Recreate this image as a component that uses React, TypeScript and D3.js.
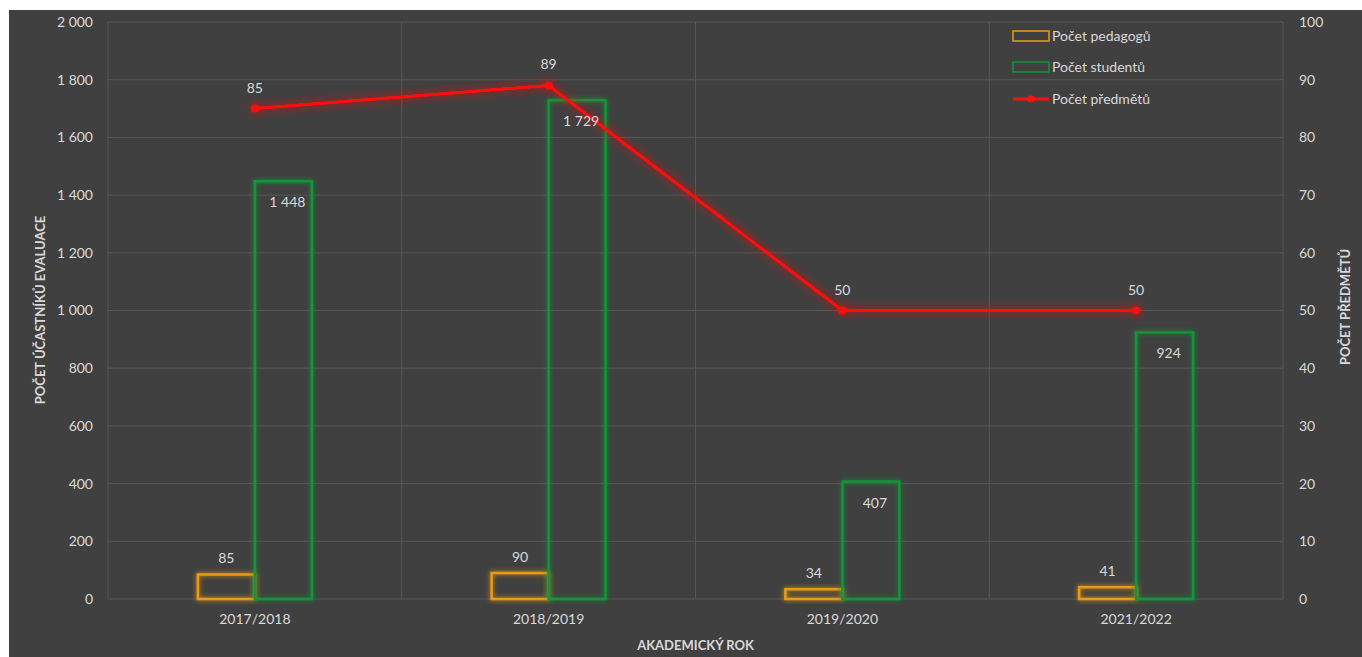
import React from "react";
import * as d3 from "d3";

const years = ["2017/2018", "2018/2019", "2019/2020", "2021/2022"];
const teachers = [85, 90, 34, 41];
const students = [1448, 1729, 407, 924];
const courses = [85, 89, 50, 50];
const leftTicks = [0, 200, 400, 600, 800, 1000, 1200, 1400, 1600, 1800, 2000];
const rightTicks = [0, 10, 20, 30, 40, 50, 60, 70, 80, 90, 100];

const W = 1362;
const H = 657;
const m = { left: 108, right: 1283, top: 22, bottom: 599 };
const font = "Lato, 'Open Sans', sans-serif";
const textColor = "#d9d9d9";
const gridColor = "#575757";
const orange = "#eb9a18";
const green = "#139438";
const red = "#ff1010";

const fmt = (v: number) => d3.format(",")(v).replace(/,/g, " ");

const App = () => {
  const x = d3.scaleBand().domain(years).range([m.left, m.right]);
  const yL = d3.scaleLinear().domain([0, 2000]).range([m.bottom, m.top]);
  const yR = d3.scaleLinear().domain([0, 100]).range([m.bottom, m.top]);
  const barW = 57;
  const cx = (d: string) => (x(d) as number) + x.bandwidth() / 2;

  const line = d3
    .line<number>()
    .x((_, i) => cx(years[i]))
    .y((d) => yR(d));

  return (
    <div style={{ position: "absolute", left: 0, top: 0 }}>
      <svg width={W} height={H} style={{ display: "block" }}>
        <defs>
          <filter id="glow" x="-50%" y="-50%" width="200%" height="200%">
            <feGaussianBlur stdDeviation="2.5" result="b" />
            <feMerge>
              <feMergeNode in="b" />
              <feMergeNode in="SourceGraphic" />
            </feMerge>
          </filter>
          <filter id="glowRed" x="-20%" y="-50%" width="140%" height="200%">
            <feGaussianBlur stdDeviation="5" result="b" />
            <feMerge>
              <feMergeNode in="b" />
              <feMergeNode in="SourceGraphic" />
            </feMerge>
          </filter>
        </defs>
        <rect width={W} height={H} fill="#ffffff" />
        <rect x={9} y={10} width={W - 9} height={H - 10} fill="#404040" />

        {/* horizontal grid */}
        {leftTicks.map((t) => (
          <line
            key={t}
            x1={m.left}
            x2={m.right}
            y1={yL(t)}
            y2={yL(t)}
            stroke={gridColor}
            strokeWidth={1}
          />
        ))}
        {/* vertical grid at category boundaries */}
        {years.map((d) => (
          <line
            key={d}
            x1={x(d) as number}
            x2={x(d) as number}
            y1={m.top}
            y2={m.bottom}
            stroke={gridColor}
          />
        ))}
        <line x1={m.right} x2={m.right} y1={m.top} y2={m.bottom} stroke={gridColor} />

        {/* left ticks */}
        {leftTicks.map((t) => (
          <text
            key={t}
            x={93}
            y={yL(t)}
            dy="0.35em"
            textAnchor="end"
            fontFamily={font}
            fontSize={14}
            fill={textColor}
          >
            {fmt(t)}
          </text>
        ))}
        {/* right ticks */}
        {rightTicks.map((t) => (
          <text
            key={t}
            x={1299}
            y={yR(t)}
            dy="0.35em"
            textAnchor="start"
            fontFamily={font}
            fontSize={14}
            fill={textColor}
          >
            {t}
          </text>
        ))}

        {/* bars */}
        {years.map((d, i) => {
          const c = cx(d);
          return (
            <g key={d}>
              <rect
                x={c - barW}
                y={yL(teachers[i])}
                width={barW}
                height={m.bottom - yL(teachers[i])}
                fill="none"
                stroke={orange}
                strokeWidth={2.5}
                filter="url(#glow)"
              />
              <rect
                x={c}
                y={yL(students[i])}
                width={barW}
                height={m.bottom - yL(students[i])}
                fill="none"
                stroke={green}
                strokeWidth={2.5}
                filter="url(#glow)"
              />
            </g>
          );
        })}

        {/* line */}
        <g filter="url(#glowRed)">
          <path d={line(courses) as string} fill="none" stroke={red} strokeWidth={3} />
          {courses.map((v, i) => (
            <circle key={i} cx={cx(years[i])} cy={yR(v)} r={4} fill={red} />
          ))}
        </g>

        {/* data labels */}
        {years.map((d, i) => {
          const c = cx(d);
          return (
            <g key={d} fontFamily={font} fontSize={14} fill={textColor} textAnchor="middle">
              <text x={c - barW / 2} y={yL(teachers[i]) - 11}>
                {fmt(teachers[i])}
              </text>
              <text x={c + barW / 2 + 4} y={yL(students[i]) + 26}>
                {fmt(students[i])}
              </text>
              <text x={c} y={yR(courses[i]) - 16}>
                {courses[i]}
              </text>
            </g>
          );
        })}

        {/* x labels */}
        {years.map((d) => (
          <text
            key={d}
            x={cx(d)}
            y={624}
            textAnchor="middle"
            fontFamily={font}
            fontSize={14}
            fill={textColor}
          >
            {d}
          </text>
        ))}

        {/* axis titles */}
        <text
          x={(m.left + m.right) / 2}
          y={650}
          textAnchor="middle"
          fontFamily={font}
          fontSize={13}
          fontWeight="bold"
          fill={textColor}
        >
          AKADEMICKÝ ROK
        </text>
        <text
          transform={`translate(45,310) rotate(-90)`}
          textAnchor="middle"
          fontFamily={font}
          fontSize={13}
          fontWeight="bold"
          fill={textColor}
        >
          POČET ÚČASTNÍKŮ EVALUACE
        </text>
        <text
          transform={`translate(1350,307) rotate(-90)`}
          textAnchor="middle"
          fontFamily={font}
          fontSize={13}
          fontWeight="bold"
          fill={textColor}
        >
          POČET PŘEDMĚTŮ
        </text>

        {/* legend */}
        <g fontFamily={font} fontSize={14} fill={textColor}>
          <rect x={1013} y={31} width={36} height={10} fill="none" stroke={orange} strokeWidth={1.5} />
          <text x={1052} y={36} dy="0.35em">Počet pedagogů</text>
          <rect x={1013} y={62} width={36} height={10} fill="none" stroke={green} strokeWidth={1.5} />
          <text x={1052} y={67} dy="0.35em">Počet studentů</text>
          <line x1={1013} x2={1049} y1={99} y2={99} stroke={red} strokeWidth={3} />
          <circle cx={1031} cy={99} r={3.5} fill={red} />
          <text x={1052} y={99} dy="0.35em">Počet předmětů</text>
        </g>
      </svg>
    </div>
  );
};

export default App;
